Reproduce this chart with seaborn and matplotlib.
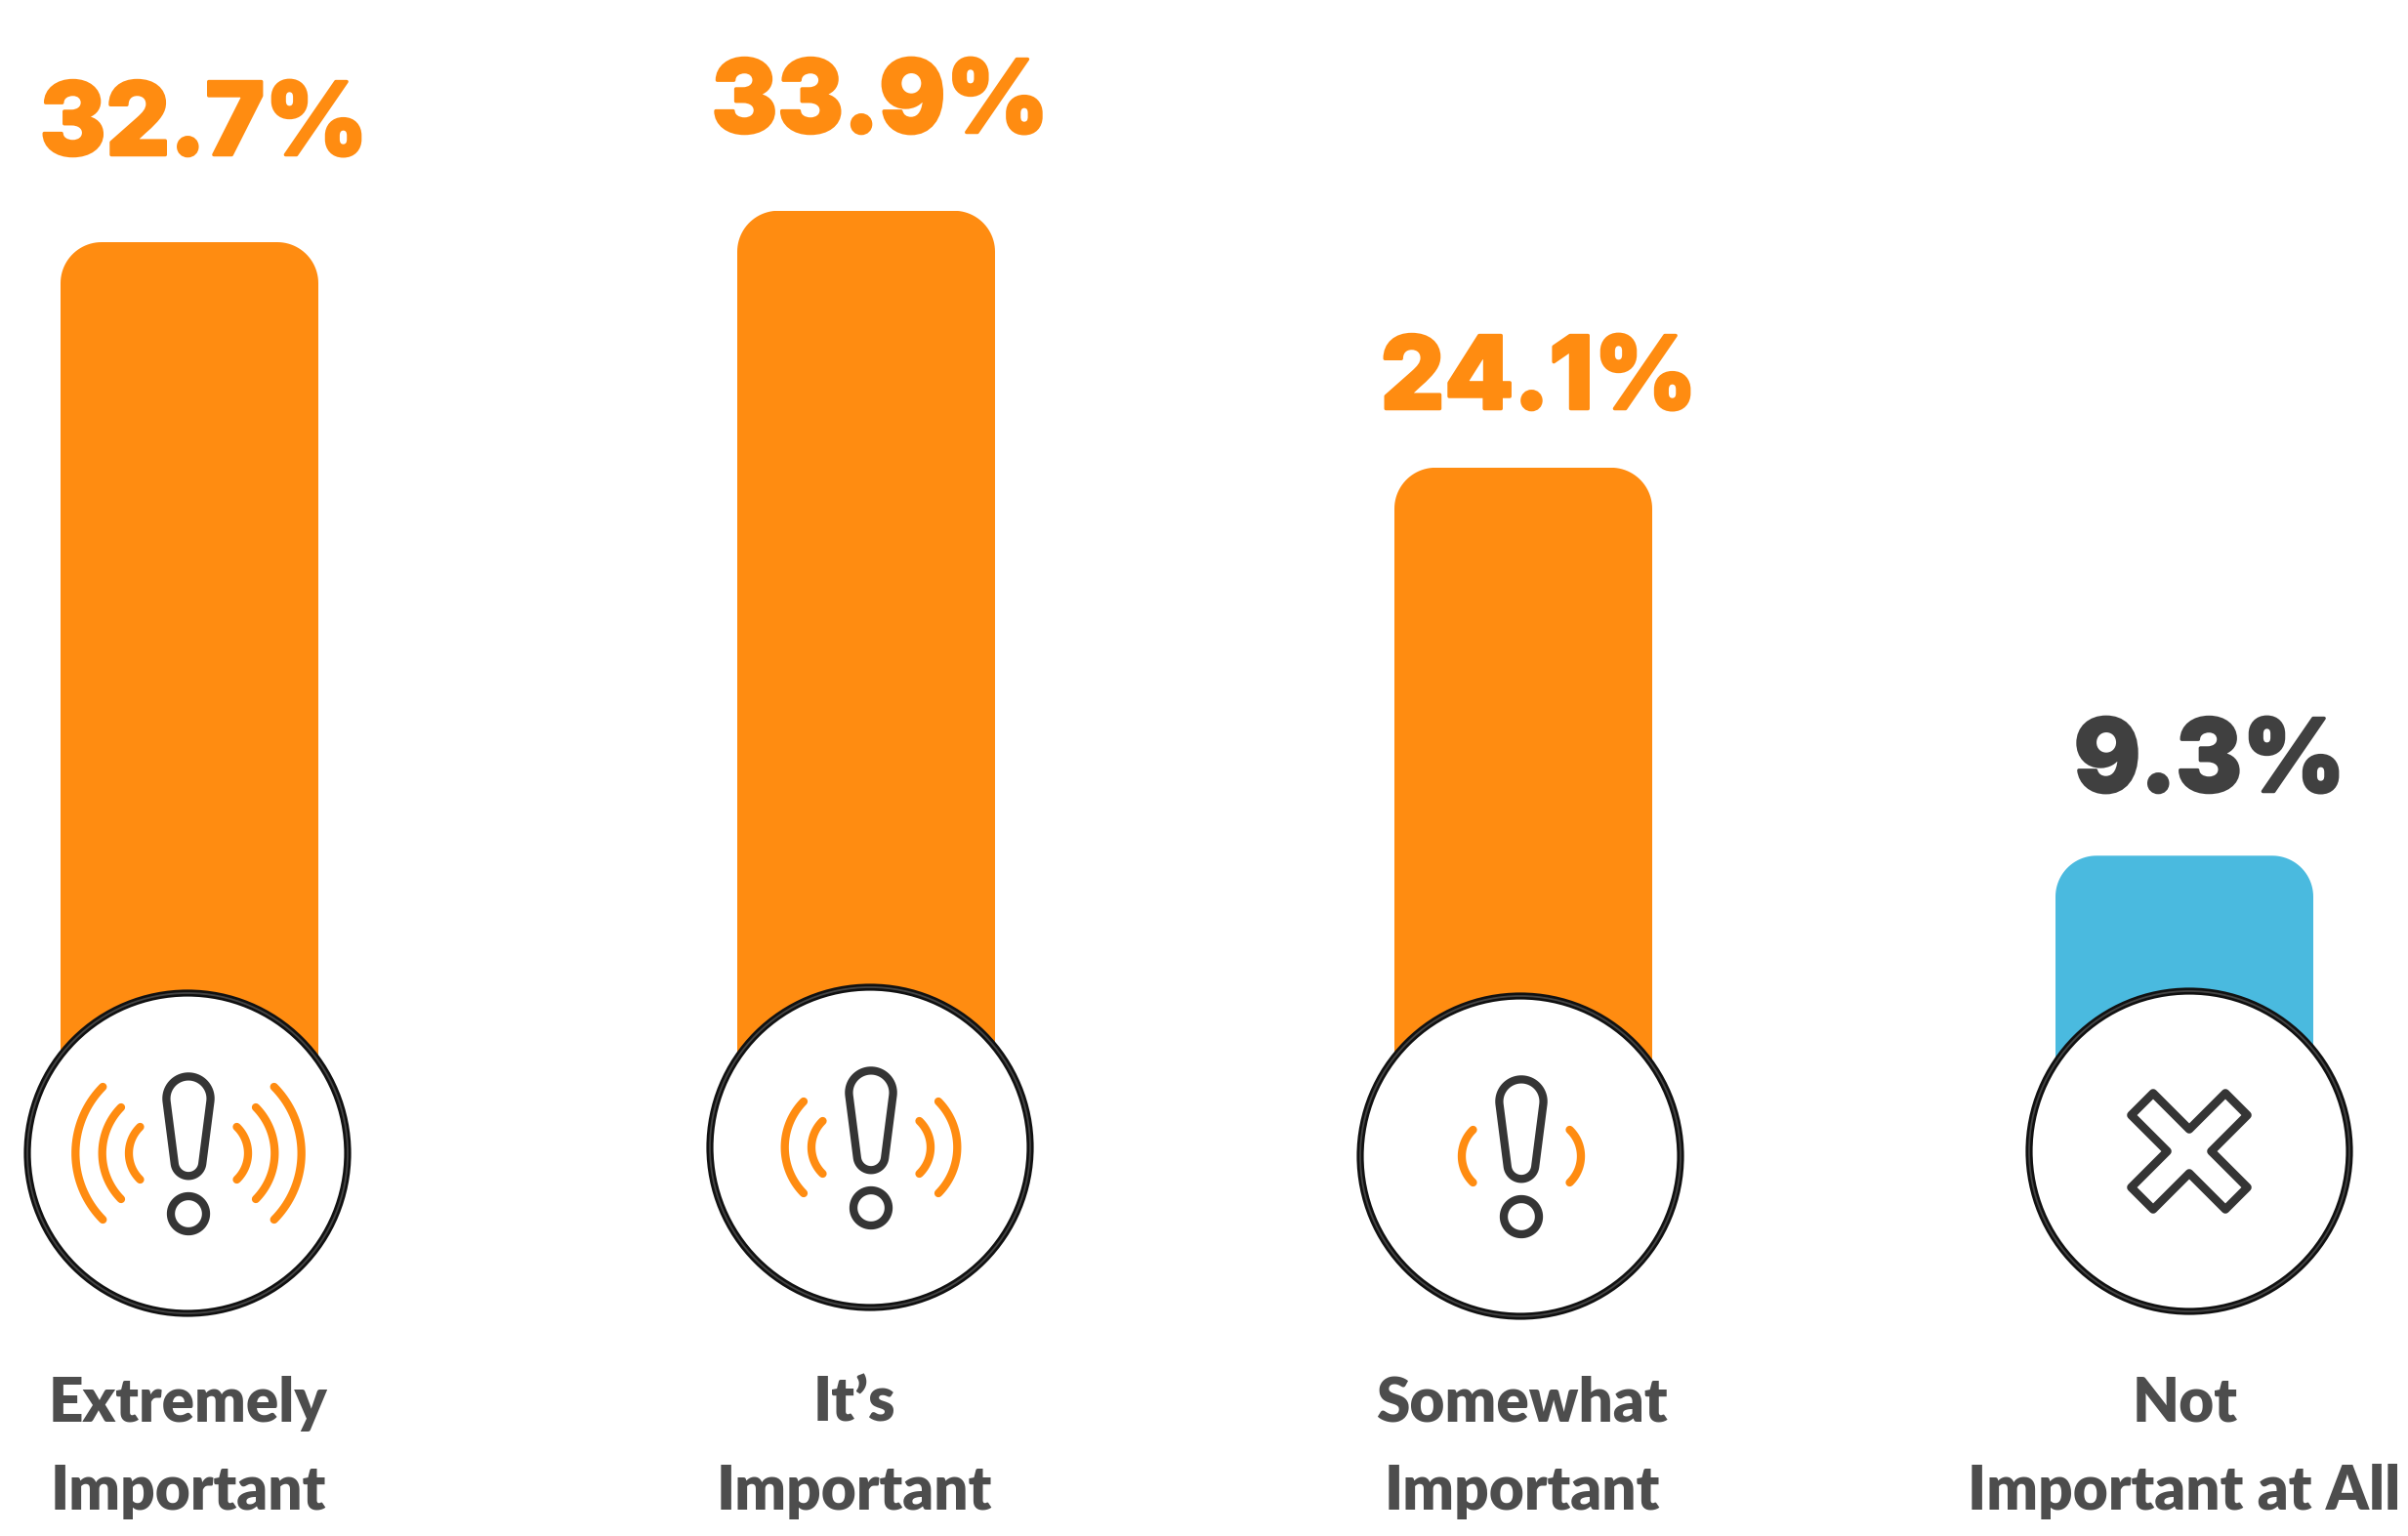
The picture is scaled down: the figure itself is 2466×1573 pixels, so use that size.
import numpy as np
import matplotlib
matplotlib.use("Agg")
import matplotlib.pyplot as plt
import matplotlib.patheffects as pe
import seaborn as sns
from matplotlib.patches import Circle, PathPatch, Polygon
from matplotlib.path import Path
from matplotlib.transforms import Affine2D, IdentityTransform

# Survey results
categories = ["Extremely Important", "It's Important", "Somewhat Important", "Not Important at All"]
values = [32.7, 33.9, 24.1, 9.3]
value_labels = ["32.7%", "33.9%", "24.1%", "9.3%"]
label_lines = [("Extremely", "Important"), ("It’s", "Important"),
               ("Somewhat", "Important"), ("Not", "Important at All")]
signal_levels = [3, 2, 1, 0]

# Colours
ORANGE = "#FF8C11"
BLUE = "#4ABADF"
INK = "#353535"
PCT_DARK = "#404040"
LABEL = "#4D4D4D"
bar_colors = [ORANGE, ORANGE, ORANGE, BLUE]
pct_colors = [ORANGE, ORANGE, ORANGE, PCT_DARK]

# Layout, in canvas pixels from the top-left corner
W, H = 2466, 1573
bar_centers = [194, 887, 1560, 2237]
bar_px_width = 264
baseline_px = 1126
px_per_unit = 26.85
corner_px = 42
circle_centers = [(192, 1181), (891, 1175), (1557, 1184), (2242, 1179)]
circle_radius = 164
pct_anchor = [(209, 158.5), (901.5, 135.5), (1576, 418.5), (2263, 810.5)]
label_x = [(193, 193), (875, 875), (1558, 1559), (2238, 2237)]
label_baselines = (1456, 1546)

sns.set_theme(style="white")
fig = plt.figure(figsize=(W / 100, H / 100), dpi=100, facecolor="white")
ax = fig.add_axes([0, 0, 1, 1])

sns.barplot(x=bar_centers, y=values, hue=categories, palette=bar_colors,
            native_scale=True, width=bar_px_width / 673, legend=False,
            saturation=1, linewidth=0, ax=ax)
ax.set_xlim(0, W)
ax.set_ylim((baseline_px - H) / px_per_unit, baseline_px / px_per_unit)
ax.axis("off")

pix = Affine2D().scale(1, -1).translate(0, H)
pt = 72 / 100  # points per canvas pixel


def round_bar_tops():
    """Clip each bar to an outline whose upper corners are true circular arcs."""
    r = corner_px
    for bar in ax.patches:
        box = bar.get_window_extent()
        t = np.linspace(0, np.pi / 2, 24)
        right = np.column_stack([box.x1 - r + r * np.cos(t), box.y1 - r + r * np.sin(t)])
        left = np.column_stack([box.x0 + r - r * np.sin(t), box.y1 - r + r * np.cos(t)])
        outline = np.vstack([[box.x1, box.y0], right, left, [box.x0, box.y0], [box.x1, box.y0]])
        bar.set_clip_path(PathPatch(Path(outline), transform=IdentityTransform()))


def stroke(x, y, color, lw=8.3, closed=False):
    """Round-capped icon stroke, with coordinates in canvas pixels."""
    verts = np.column_stack([x, y])
    if closed:
        patch = Polygon(verts, closed=True, fill=False, edgecolor=color, lw=lw * pt,
                        joinstyle="round", transform=pix, zorder=5)
    else:
        patch = PathPatch(Path(verts), fill=False, edgecolor=color, lw=lw * pt,
                          capstyle="round", joinstyle="round", transform=pix, zorder=5)
    ax.add_patch(patch)


def badge(cx, cy):
    ax.add_patch(Circle((cx, cy), circle_radius, facecolor="white", edgecolor="#111111",
                        lw=7.2 * pt, transform=pix, zorder=3))
    ax.add_patch(Circle((cx, cy), circle_radius, fill=False, edgecolor="#444444",
                        lw=1.8 * pt, transform=pix, zorder=4))


def exclamation(cx, cy):
    # Tapered body: two circles joined by their outer tangents
    r1, r2 = 22.6, 14.3
    y1, y2 = cy - 56, cy + 9
    a = np.arcsin((r1 - r2) / (y2 - y1))
    t_top = np.linspace(np.pi - a, 2 * np.pi + a, 40)
    t_bot = np.linspace(a, np.pi - a, 30)
    x = np.r_[cx + r1 * np.cos(t_top), cx + r2 * np.cos(t_bot)]
    y = np.r_[y1 + r1 * np.sin(t_top), y2 + r2 * np.sin(t_bot)]
    stroke(x, y, INK, closed=True)
    t = np.linspace(0, 2 * np.pi, 60)
    stroke(cx + 18 * np.cos(t), cy + 62 + 18 * np.sin(t), INK, closed=True)


def signal_arcs(cx, cy, level):
    # (tip offset, apex offset, half height) of each wave, innermost first
    waves = [(49.5, 61, 27), (69, 88.3, 47), (87.7, 115.7, 68)]
    for tip, apex, half in waves[:level]:
        sag = apex - tip
        r = (half ** 2 + sag ** 2) / (2 * sag)
        lim = np.arcsin(half / r)
        t = np.linspace(-lim, lim, 40)
        dx = apex - r + r * np.cos(t)
        dy = r * np.sin(t)
        stroke(cx + dx, cy + dy, ORANGE)
        stroke(cx - dx, cy + dy, ORANGE)


def cross(cx, cy):
    a, b, n = 37, 59.5, 22.5
    x = np.array([0, a, b, n, b, a, 0, -a, -b, -n, -b, -a])
    y = np.array([-n, -b, -a, 0, a, b, n, b, a, 0, -a, -b])
    stroke(cx + x, cy + y, INK, lw=8.6, closed=True)


round_bar_tops()

for (cx, cy), level in zip(circle_centers, signal_levels):
    badge(cx, cy)
    if level:
        exclamation(cx + 1, cy)
        signal_arcs(cx + 1, cy, level)
    else:
        cross(cx, cy)

for text, (x, y), color in zip(value_labels, pct_anchor, pct_colors):
    # A thin outline of the same colour gives the figures their extra weight
    ax.text(x, y, text, transform=pix, ha="center", va="baseline", color=color,
            family="Inter", weight=800, fontsize=103 * pt, zorder=6,
            path_effects=[pe.withStroke(linewidth=3.5 * pt, foreground=color)])

for lines, xs in zip(label_lines, label_x):
    for line, x, y in zip(lines, xs, label_baselines):
        ax.text(x, y, line, transform=pix, ha="center", va="baseline", color=LABEL,
                family="Lato", weight=800, fontsize=62 * pt, zorder=6)

fig.savefig("out.png", dpi=100, facecolor="white")
